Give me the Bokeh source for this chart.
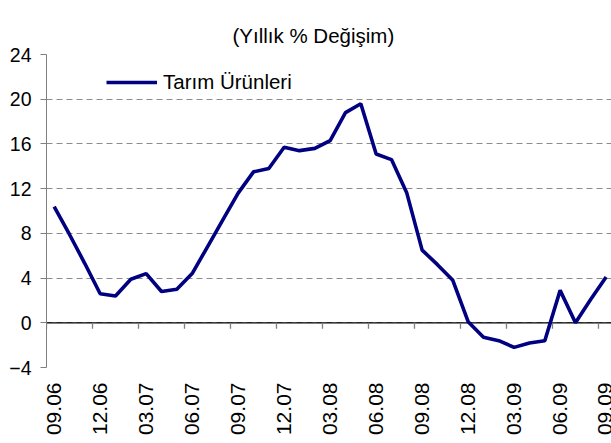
import math
from bokeh.plotting import figure
from bokeh.models import Range1d, FixedTicker, Span, Legend, LegendItem
from bokeh.embed import file_html
from bokeh.resources import INLINE

# ---- data ----
months = ["09.06", "10.06", "11.06", "12.06", "01.07", "02.07", "03.07", "04.07", "05.07",
          "06.07", "07.07", "08.07", "09.07", "10.07", "11.07", "12.07", "01.08", "02.08",
          "03.08", "04.08", "05.08", "06.08", "07.08", "08.08", "09.08", "10.08", "11.08",
          "12.08", "01.09", "02.09", "03.09", "04.09", "05.09", "06.09", "07.09", "08.09",
          "09.09"]
tarim = [10.4, 7.9, 5.3, 2.6, 2.4, 3.9, 4.4, 2.8, 3.0, 4.4, 6.8, 9.2, 11.6, 13.5, 13.8,
         15.7, 15.4, 15.6, 16.3, 18.8, 19.6, 15.1, 14.6, 11.6, 6.5, 5.2, 3.8, 0.1, -1.3,
         -1.6, -2.2, -1.8, -1.6, 2.9, 0.0, 2.1, 4.1]
y_ticks = [-4, 0, 4, 8, 12, 16, 20, 24]
series_name = "Tarım Ürünleri"
title_text = "(Yıllık % Değişim)"

FONT = "Liberation Sans"
x = list(range(len(months)))
label_ticks = x[::3]
boundaries = [t - 0.5 for t in label_ticks]

p = figure(width=611, height=443, output_backend="svg", toolbar_location=None,
           x_range=Range1d(-0.5, 36.35), y_range=Range1d(-4, 24),
           min_border_left=46, min_border_right=0, min_border_top=54, min_border_bottom=76)
p.outline_line_color = None
p.background_fill_color = "white"

# title
p.title.text = title_text
p.title.align = "left"
p.title.offset = 186
p.title.standoff = 16
p.title.text_font = FONT
p.title.text_font_size = "20.5px"
p.title.text_font_style = "normal"
p.title.text_color = "black"

# y axis
p.yaxis.ticker = FixedTicker(ticks=y_ticks)
p.yaxis.axis_line_color = "#808080"
p.yaxis.major_tick_line_color = "#808080"
p.yaxis.major_tick_out = 6
p.yaxis.major_tick_in = 0
p.yaxis.minor_tick_line_color = None
p.yaxis.major_label_standoff = 9
p.yaxis.major_label_text_font = FONT
p.yaxis.major_label_text_font_size = "19.5px"
p.yaxis.major_label_text_color = "black"

# x axis (labels only)
p.xaxis.ticker = FixedTicker(ticks=label_ticks)
p.xaxis.major_label_overrides = {t: months[t] for t in label_ticks}
p.xaxis.major_label_orientation = math.pi / 2
p.xaxis.axis_line_color = None
p.xaxis.major_tick_line_color = None
p.xaxis.minor_tick_line_color = None
p.xaxis.major_tick_out = 0
p.xaxis.major_tick_in = 0
p.xaxis.major_label_standoff = 15
p.xaxis.major_label_text_font = FONT
p.xaxis.major_label_text_font_size = "21px"
p.xaxis.major_label_text_color = "black"

# grid
p.xgrid.visible = False
p.ygrid.ticker = FixedTicker(ticks=y_ticks)
p.ygrid.grid_line_color = "#8c8c8c"
p.ygrid.grid_line_dash = "6 4"
p.ygrid.grid_line_width = 1

# category axis crossing at 0
p.add_layout(Span(location=0, dimension="width", line_color="black", line_width=1.3,
                  level="underlay"))
p.segment(x0=boundaries, y0=0, x1=boundaries, y1=-0.54, line_color="#808080", line_width=1.3)

r = p.line(x, tarim, line_color="#000080", line_width=3.6)

legend = Legend(items=[LegendItem(label=series_name, renderers=[r])],
                location=(60, 273), glyph_width=51, glyph_height=24, label_height=24,
                label_standoff=6, padding=0, margin=0, spacing=0,
                border_line_color=None, background_fill_alpha=0,
                label_text_font=FONT, label_text_font_size="20.5px", label_text_color="black")
p.add_layout(legend)

open("out.html", "w").write(file_html(p, INLINE))
